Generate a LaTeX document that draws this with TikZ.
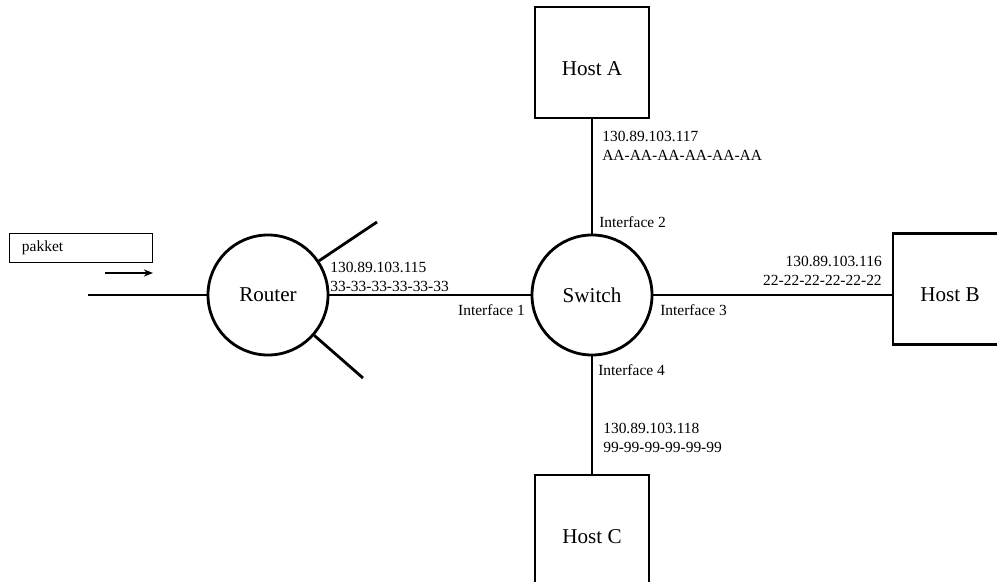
\documentclass[tikz,border=0pt]{standalone}
\usepackage{fontspec}
\setmainfont{Liberation Serif}
\usetikzlibrary{arrows.meta, positioning}
\tikzset{
    device/.style={circle, draw=black, line width=2pt, minimum size=3cm, inner sep=0pt, font=\fontsize{15}{18}\selectfont},
    host/.style={rectangle, draw=black, line width=2pt, minimum width=2.85cm, minimum height=2.775cm, text height=18pt, inner sep=0pt, font=\fontsize{15}{18}\selectfont},
    link/.style={line width=2pt},
    addr/.style={font=\fontsize{11}{13.5}\selectfont, inner sep=0pt},
    port/.style={font=\fontsize{11}{13}\selectfont, inner sep=0pt},
    arrow/.style={line width=0.9pt, -{Stealth[length=2.3mm, width=1.8mm]}}
}

\begin{document}
\begin{tikzpicture}[x=0.025cm, y=-0.025cm]
    \clip (0,0) rectangle (997,582);

    % packet
    \node[draw=black, line width=0.7pt, minimum width=3.55cm, minimum height=0.725cm, text width=2.95cm, align=left, font=\fontsize{11}{13}\selectfont] (pkt) at (81,247.5) {pakket};
    \coordinate (pktfrom) at (105,273);
    \coordinate (pktto) at (153,273);
    \draw[arrow] (pktfrom) -- (pktto);

    % devices
    \node[device] (router) at (268,295) {Router};
    \node[device] (switch) at (592,295) {Switch};

    \node[host] (hostA) at (592,62.5) {Host A};
    \node[host] (hostB) at (950,289) {Host B};
    \node[host] (hostC) at (592,530.5) {Host C};

    \coordinate (wan) at (88,295);
    \coordinate (spokeup) at (377,222);
    \coordinate (spokedown) at (363,378);

    % links
    \draw[link] (wan) -- (router);
    \draw[link] (router) -- (spokeup);
    \draw[link] (router) -- (spokedown);
    \draw[link] (router) -- (switch);
    \draw[link] (switch) -- (hostA);
    \draw[link] (switch.east) -- (switch.east -| hostB.west);
    \draw[link] (switch) -- (hostC);

    % addresses
    \node[addr, align=left, anchor=west] (addrR) at (330,276.5) {130.89.103.115\\33-33-33-33-33-33};
    \node[addr, align=left, anchor=west] (addrA) at (602,146) {130.89.103.117\\AA-AA-AA-AA-AA-AA};
    \node[addr, align=right, anchor=east] (addrB) at (882,271) {130.89.103.116\\22-22-22-22-22-22};
    \node[addr, align=left, anchor=west] (addrC) at (603,438) {130.89.103.118\\99-99-99-99-99-99};

    % switch ports
    \node[port, anchor=east] (if1) at (525,310) {Interface 1};
    \node[port, anchor=west] (if2) at (599,222) {Interface 2};
    \node[port, anchor=west] (if3) at (660,310) {Interface 3};
    \node[port, anchor=west] (if4) at (598,370) {Interface 4};
\end{tikzpicture}
\end{document}
